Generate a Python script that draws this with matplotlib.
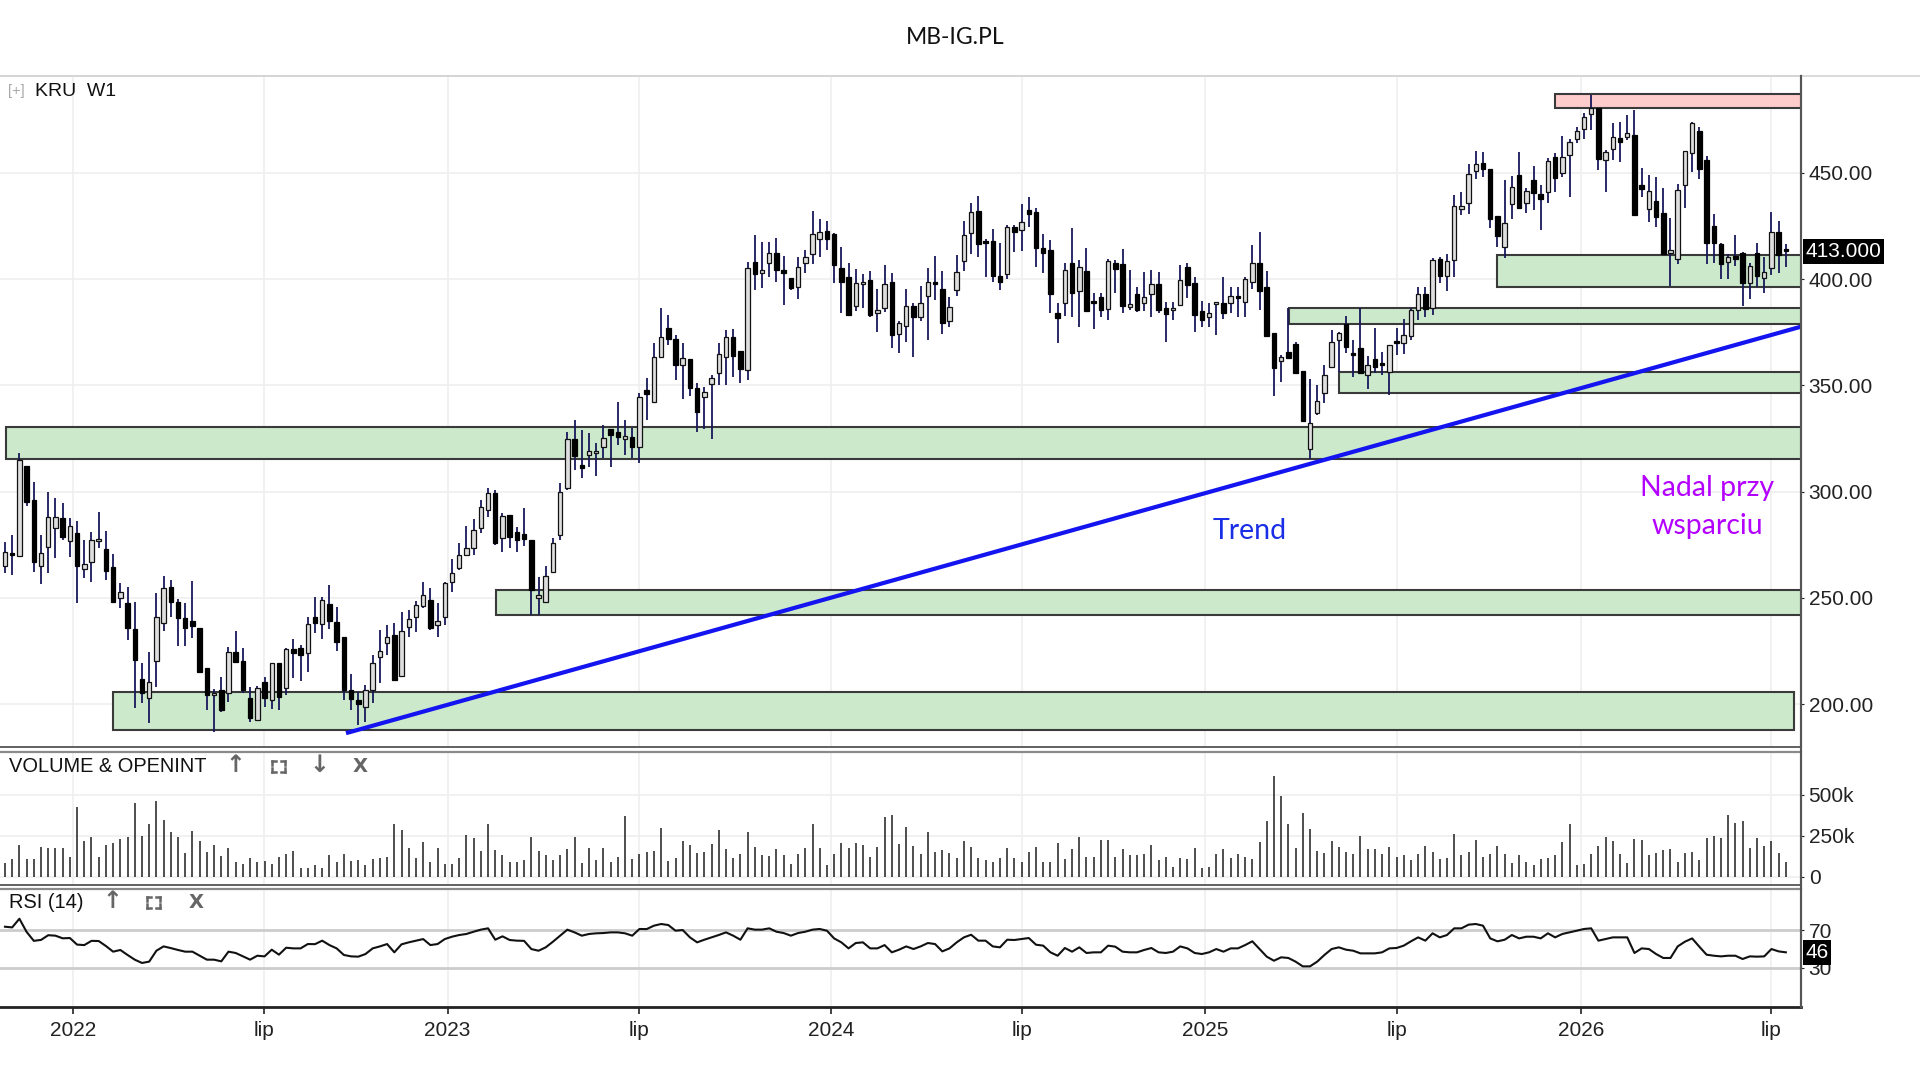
import matplotlib
matplotlib.use("Agg")
import matplotlib.pyplot as plt
import matplotlib.transforms as mtransforms
from matplotlib.patches import Rectangle
from matplotlib.lines import Line2D
import numpy as np

plt.rcParams['font.family'] = ['Liberation Sans', 'DejaVu Sans']

# ---------------- data (weekly candles, KRU W1) ----------------
open_ = [265.0, 271.0, 269.7, 312.2, 296.0, 265.0, 274.1, 282.7, 287.4, 277.0,
         280.7, 263.5, 267.0, 276.6, 272.9, 264.7, 249.8, 247.5, 235.2, 211.7,
         202.8, 220.3, 238.0, 255.0, 248.2, 240.4, 239.3, 235.7, 216.9, 204.5,
         206.7, 205.4, 224.4, 220.5, 202.8, 192.6, 210.6, 202.0, 219.2, 207.5,
         225.8, 226.3, 223.9, 241.2, 237.7, 247.1, 238.8, 231.8, 206.7, 202.0,
         198.9, 206.7, 222.4, 228.6, 232.6, 213.3, 236.2, 241.2, 246.2, 249.0,
         237.5, 241.2, 257.6, 263.9, 270.2, 273.3, 282.7, 291.3, 299.5, 278.0,
         289.0, 281.2, 280.0, 277.2, 250.0, 248.2, 262.4, 279.6, 301.5, 324.6,
         312.5, 317.2, 318.0, 321.2, 329.3, 328.2, 324.6, 325.8, 321.2, 348.0,
         342.3, 363.5, 376.8, 372.0, 359.6, 362.2, 348.6, 344.7, 350.4, 355.6,
         363.5, 372.6, 366.3, 357.2, 408.2, 403.0, 407.7, 412.4, 404.2, 400.3,
         396.1, 407.7, 412.0, 418.7, 422.7, 421.2, 405.0, 400.8, 387.3, 397.5,
         399.5, 384.2, 386.2, 398.7, 374.1, 377.9, 387.3, 382.3, 392.0, 398.5,
         395.2, 380.4, 394.8, 408.6, 421.8, 432.1, 417.5, 418.0, 401.4, 402.4,
         424.3, 423.1, 432.5, 431.7, 414.4, 413.6, 383.9, 388.9, 407.4, 394.5,
         403.9, 389.5, 391.4, 385.7, 407.4, 407.0, 386.7, 393.0, 388.9, 393.0,
         397.6, 386.2, 385.5, 387.8, 405.5, 398.3, 385.1, 382.3, 388.2, 388.9,
         388.9, 391.5, 389.3, 398.7, 407.7, 396.1, 374.4, 361.5, 365.8, 369.4,
         356.9, 319.9, 336.8, 346.5, 358.8, 371.3, 378.8, 365.4, 367.4, 354.8,
         362.2, 360.5, 356.4, 370.5, 370.1, 373.2, 385.4, 393.0, 386.5, 409.3,
         401.2, 408.8, 432.8, 435.9, 451.0, 454.4, 451.6, 429.6, 415.2, 435.3,
         448.9, 435.6, 446.6, 440.0, 441.1, 457.2, 450.0, 458.3, 465.7, 470.4,
         477.6, 480.3, 455.9, 461.0, 466.2, 467.0, 467.7, 444.2, 432.8, 436.8,
         431.2, 412.1, 409.2, 444.2, 459.4, 469.8, 456.0, 425.0, 416.5, 408.1,
         410.8, 412.4, 398.0, 412.4, 400.3, 405.0, 422.3, 414.2]
high = [276.5, 279.6, 318.0, 312.2, 304.7, 279.6, 300.0, 296.8, 294.5, 287.4,
        286.3, 277.2, 281.2, 290.6, 281.5, 270.7, 256.9, 255.3, 248.2, 219.2,
        224.7, 252.2, 260.3, 258.4, 249.3, 247.8, 258.0, 235.7, 216.9, 207.0,
        213.0, 227.1, 234.6, 226.3, 208.3, 208.6, 213.0, 219.5, 219.2, 226.3,
        230.5, 227.9, 241.2, 250.3, 250.6, 256.1, 245.9, 231.8, 214.2, 205.9,
        209.0, 223.2, 234.9, 237.3, 238.0, 243.5, 244.3, 248.7, 257.6, 254.5,
        247.5, 257.6, 268.2, 275.7, 283.8, 287.0, 296.0, 301.5, 300.8, 289.8,
        289.0, 283.5, 292.1, 277.2, 260.0, 265.0, 278.0, 303.9, 328.2, 333.7,
        329.0, 327.7, 323.0, 331.3, 329.3, 342.3, 333.7, 329.8, 346.5, 353.3,
        370.1, 386.2, 383.1, 373.7, 370.1, 362.2, 350.9, 349.4, 354.9, 370.1,
        376.0, 376.3, 366.3, 408.2, 420.7, 417.6, 417.6, 419.1, 410.8, 400.3,
        410.2, 413.6, 432.1, 428.1, 427.4, 421.8, 415.2, 407.4, 404.5, 402.4,
        403.9, 395.2, 406.6, 403.0, 380.4, 395.2, 388.6, 396.7, 405.0, 410.8,
        403.9, 391.7, 411.3, 427.4, 435.9, 439.1, 418.7, 423.4, 417.1, 425.4,
        425.4, 435.3, 438.7, 433.2, 421.2, 418.3, 388.9, 407.4, 423.8, 409.0,
        414.4, 393.3, 393.3, 409.3, 408.9, 414.0, 404.2, 396.4, 403.5, 404.2,
        403.5, 389.3, 389.3, 406.6, 407.4, 400.8, 389.8, 388.9, 389.3, 401.1,
        396.4, 396.1, 401.1, 416.0, 422.3, 403.9, 374.4, 364.5, 386.6, 370.5,
        356.9, 352.8, 350.2, 359.6, 376.0, 375.2, 382.6, 371.3, 386.2, 363.8,
        376.8, 365.8, 369.0, 376.8, 381.0, 386.2, 396.1, 396.4, 409.7, 410.5,
        412.0, 439.5, 441.1, 454.1, 460.4, 459.9, 451.6, 429.6, 446.6, 448.4,
        459.9, 442.6, 453.2, 444.2, 456.8, 459.4, 467.3, 465.7, 471.6, 477.9,
        486.5, 480.3, 460.7, 473.2, 474.0, 477.1, 479.5, 452.0, 448.9, 448.1,
        442.6, 428.5, 444.7, 460.4, 474.0, 471.3, 457.9, 430.6, 416.8, 411.8,
        420.7, 412.9, 407.7, 416.8, 410.5, 431.7, 427.4, 416.5]
low = [261.6, 261.0, 269.7, 293.2, 262.4, 256.4, 261.6, 268.6, 277.2, 269.4,
       247.5, 259.2, 257.6, 273.3, 258.4, 247.5, 245.1, 230.2, 198.1, 200.4,
       191.3, 208.3, 234.4, 241.2, 227.4, 227.4, 231.3, 214.5, 197.3, 187.1,
       196.5, 201.2, 219.2, 205.4, 191.8, 192.1, 198.5, 197.6, 197.3, 204.3,
       212.2, 211.1, 215.3, 233.3, 230.5, 235.2, 225.2, 202.0, 197.3, 190.2,
       191.8, 200.4, 209.8, 223.2, 211.4, 213.3, 231.5, 234.1, 245.1, 234.9,
       231.8, 237.3, 252.9, 263.1, 269.7, 270.2, 280.4, 287.9, 274.9, 271.8,
       273.3, 271.8, 274.4, 242.0, 242.0, 247.5, 261.9, 277.2, 300.8, 310.2,
       306.2, 311.7, 307.3, 315.6, 311.7, 321.9, 317.2, 315.6, 313.6, 333.7,
       341.8, 362.7, 369.0, 352.5, 343.4, 345.0, 328.2, 329.3, 325.0, 350.2,
       350.2, 354.1, 351.2, 352.5, 394.8, 395.6, 401.1, 398.7, 387.8, 394.8,
       390.4, 403.0, 407.0, 410.2, 413.6, 398.3, 384.2, 383.1, 385.1, 386.2,
       382.3, 375.2, 384.7, 367.4, 365.0, 370.5, 363.2, 380.4, 371.3, 390.1,
       374.1, 377.6, 392.0, 403.9, 411.8, 410.2, 400.8, 398.7, 394.8, 399.8,
       412.9, 413.3, 424.6, 405.8, 403.0, 384.2, 370.1, 382.6, 382.0, 377.6,
       385.1, 376.3, 382.0, 380.7, 393.3, 384.2, 385.4, 384.7, 385.1, 382.0,
       384.2, 370.5, 380.7, 387.3, 390.9, 375.2, 377.6, 377.3, 373.7, 381.0,
       383.9, 382.0, 382.3, 395.2, 385.4, 373.2, 345.0, 351.7, 362.2, 355.6,
       333.4, 315.2, 336.0, 341.8, 358.0, 356.4, 365.4, 353.7, 355.6, 348.1,
       355.6, 354.8, 345.4, 364.2, 364.7, 371.3, 380.7, 382.0, 383.1, 398.3,
       394.3, 401.1, 430.1, 430.6, 446.9, 447.8, 423.8, 414.9, 409.7, 428.1,
       433.2, 431.2, 432.5, 423.1, 435.6, 441.1, 447.8, 438.7, 464.1, 465.7,
       470.1, 451.3, 441.1, 456.0, 455.2, 465.4, 430.1, 438.7, 427.0, 424.3,
       411.3, 396.7, 407.1, 433.2, 450.5, 446.9, 407.1, 407.4, 399.8, 399.8,
       406.1, 387.3, 390.4, 396.4, 393.3, 401.9, 403.0, 405.5]
close = [271.8, 270.0, 314.9, 295.3, 266.7, 271.3, 287.9, 287.9, 278.5, 283.8,
         265.2, 266.0, 277.2, 277.6, 262.8, 248.2, 252.6, 235.7, 220.8, 205.4,
         210.6, 241.2, 254.5, 248.2, 240.4, 235.7, 236.8, 215.3, 204.3, 205.5,
         197.3, 224.7, 220.0, 206.7, 193.4, 207.5, 202.8, 219.2, 203.6, 225.8,
         224.2, 223.2, 237.7, 238.4, 249.0, 239.3, 229.4, 206.7, 202.3, 200.0,
         206.7, 219.2, 225.2, 231.8, 211.4, 234.6, 239.9, 246.9, 251.4, 235.7,
         239.3, 256.9, 261.6, 270.2, 273.3, 282.0, 292.9, 299.2, 275.7, 288.5,
         278.8, 277.2, 277.5, 253.7, 251.5, 260.3, 275.7, 300.0, 324.6, 316.7,
         311.0, 319.2, 318.8, 325.1, 326.6, 325.5, 326.2, 320.8, 344.7, 345.9,
         363.5, 372.9, 371.6, 359.6, 362.7, 348.6, 337.6, 347.0, 353.3, 364.7,
         372.6, 363.8, 357.5, 405.0, 402.4, 404.2, 412.4, 404.2, 402.7, 395.6,
         405.8, 410.5, 421.2, 422.3, 418.7, 406.6, 398.7, 383.1, 398.3, 398.3,
         383.1, 385.4, 397.6, 373.7, 379.5, 387.3, 382.3, 388.9, 398.7, 397.5,
         379.2, 387.0, 403.5, 420.7, 431.7, 416.5, 416.8, 401.4, 398.7, 424.3,
         422.3, 427.0, 430.6, 414.4, 412.1, 393.0, 381.5, 404.2, 393.3, 405.8,
         385.1, 388.9, 385.4, 408.6, 404.6, 387.3, 388.3, 385.4, 391.4, 397.6,
         385.4, 383.5, 386.2, 399.5, 397.2, 383.1, 380.7, 383.9, 389.3, 384.2,
         392.0, 390.9, 399.8, 407.7, 394.5, 373.2, 358.0, 363.5, 362.7, 356.0,
         333.4, 332.5, 342.8, 354.8, 370.5, 374.8, 368.2, 364.2, 355.6, 359.6,
         358.8, 359.6, 369.0, 369.8, 373.7, 385.4, 392.9, 386.0, 409.0, 401.2,
         408.4, 434.2, 434.3, 449.4, 454.1, 451.6, 428.1, 420.2, 426.5, 443.1,
         433.2, 441.5, 440.6, 437.5, 455.7, 447.4, 457.5, 464.6, 469.8, 476.4,
         480.3, 456.3, 459.9, 466.6, 464.6, 468.5, 430.1, 442.2, 441.4, 429.3,
         411.8, 413.6, 441.9, 460.2, 473.5, 451.6, 416.8, 416.8, 407.1, 410.2,
         409.2, 398.0, 406.1, 401.4, 403.5, 422.3, 411.3, 413.0]
volume_k = [86, 106, 196, 106, 106, 180, 172, 172, 172, 120,
            422, 216, 242, 122, 196, 206, 232, 242, 450, 250,
            322, 460, 346, 272, 242, 142, 280, 220, 152, 196,
            126, 172, 92, 76, 112, 92, 96, 76, 120, 136,
            156, 50, 56, 72, 52, 130, 92, 136, 96, 100,
            70, 106, 112, 120, 322, 286, 172, 112, 212, 92,
            172, 76, 80, 112, 256, 236, 156, 322, 160, 130,
            92, 92, 100, 242, 156, 132, 100, 132, 166, 242,
            82, 172, 100, 172, 92, 122, 370, 106, 140, 150,
            156, 296, 96, 116, 220, 192, 146, 152, 200, 286,
            166, 112, 140, 272, 182, 132, 126, 166, 132, 76,
            140, 172, 322, 176, 72, 140, 206, 176, 206, 192,
            122, 182, 362, 376, 200, 302, 190, 136, 272, 152,
            160, 142, 112, 220, 180, 112, 100, 90, 112, 172,
            112, 92, 152, 182, 92, 92, 206, 106, 166, 242,
            122, 122, 226, 226, 122, 166, 130, 130, 136, 196,
            100, 120, 60, 112, 106, 172, 52, 60, 136, 166,
            112, 136, 122, 106, 212, 340, 616, 490, 322, 172,
            390, 292, 156, 142, 220, 182, 152, 136, 250, 166,
            166, 136, 182, 122, 130, 100, 136, 190, 152, 106,
            112, 262, 130, 152, 226, 122, 136, 190, 136, 82,
            130, 90, 70, 106, 112, 130, 212, 322, 70, 76,
            136, 190, 242, 220, 136, 82, 232, 226, 130, 142,
            162, 166, 92, 142, 152, 100, 236, 250, 236, 376,
            330, 340, 172, 236, 190, 220, 142, 92]
rsi14 = [73.5, 72.8, 82.0, 68.0, 58.5, 59.5, 64.5, 64.0, 61.2, 61.5,
         54.5, 54.0, 58.5, 58.3, 53.0, 47.0, 48.8, 43.5, 38.5, 35.0,
         36.4, 48.0, 52.6, 50.8, 48.8, 47.0, 47.0, 42.7, 38.5, 38.5,
         36.7, 47.0, 45.6, 42.0, 38.5, 42.7, 42.0, 49.1, 43.8, 51.2,
         50.5, 50.5, 55.1, 55.0, 58.7, 54.0, 50.5, 43.5, 42.0, 41.7,
         44.5, 50.5, 52.6, 55.1, 46.3, 54.8, 56.9, 58.7, 60.4, 54.0,
         55.1, 60.4, 62.9, 64.7, 65.8, 68.2, 70.4, 71.8, 59.7, 63.3,
         59.4, 58.7, 58.5, 49.8, 48.0, 51.6, 57.6, 64.0, 70.4, 67.5,
         64.0, 65.8, 66.5, 66.8, 67.5, 67.5, 66.5, 64.0, 71.1, 71.0,
         74.6, 76.4, 75.3, 69.3, 70.0, 62.2, 56.9, 59.7, 62.2, 64.7,
         67.5, 64.0, 59.7, 71.8, 70.4, 70.4, 71.8, 68.2, 66.8, 64.0,
         66.8, 68.2, 70.4, 71.1, 69.3, 61.1, 56.9, 50.5, 56.2, 56.9,
         50.5, 50.5, 54.0, 46.3, 49.1, 52.6, 49.8, 52.6, 56.2, 55.1,
         47.3, 50.5, 56.9, 62.2, 65.0, 58.7, 58.7, 52.6, 51.6, 59.7,
         59.4, 60.4, 61.5, 54.4, 53.4, 46.3, 42.7, 50.9, 47.0, 51.6,
         45.6, 46.3, 46.3, 53.4, 52.3, 47.0, 46.3, 46.3, 48.8, 50.9,
         46.3, 45.6, 47.0, 52.6, 50.5, 45.6, 44.5, 46.3, 49.8, 47.0,
         50.5, 50.5, 54.0, 58.0, 49.8, 41.7, 37.4, 41.0, 40.3, 36.4,
         31.4, 31.4, 36.4, 43.5, 49.8, 51.6, 49.1, 48.0, 45.2, 45.2,
         45.2, 46.3, 50.5, 50.9, 53.4, 58.0, 62.2, 58.7, 66.5, 62.2,
         64.7, 71.8, 71.8, 75.7, 76.4, 74.6, 61.1, 58.0, 59.7, 64.7,
         61.1, 62.9, 62.9, 61.1, 66.5, 62.2, 65.8, 67.5, 69.3, 71.1,
         71.8, 58.7, 60.4, 62.2, 62.2, 62.2, 45.6, 50.5, 49.8, 44.5,
         40.3, 40.3, 52.6, 57.6, 61.1, 52.3, 43.8, 42.7, 42.0, 42.7,
         42.7, 39.2, 42.0, 41.7, 42.0, 49.8, 47.3, 46.3]

x_tick_pos = [9.5, 35.9, 61.4, 87.9, 114.6, 141.1, 166.4, 193.1, 218.6, 244.9]
x_tick_labels = ["2022", "lip", "2023", "lip", "2024", "lip", "2025", "lip", "2026", "lip"]
price_ticks = [200, 250, 300, 350, 400, 450]
vol_ticks = [0, 250, 500]
vol_tick_labels = ["0", "250k", "500k"]
rsi_ticks = [30, 70]

# support / resistance zones (price range and first bar)
zone_low = [315.2, 187.9, 241.9, 378.7, 346.2, 396.1, 480.3]
zone_high = [330.4, 205.6, 253.7, 386.3, 356.1, 411.1, 486.9]
zone_start = [0.1, 15.0, 68.1, 178.1, 185.0, 207.0, 215.0]
zone_end = [249.5, 248.1, 249.5, 249.5, 249.5, 249.5, 249.5]
zone_kind = ["support"] * 6 + ["resistance"]

trend_x = [47.3, 249.1]
trend_y = [186.4, 377.6]

# ---------------- layout helpers ----------------
W, H = 1920, 1080
def fx(px):
    return px / W
def fy(py):
    return 1 - py / H

fig = plt.figure(figsize=(W / 100, H / 100), dpi=100)
fig.patch.set_facecolor("white")

AX_R = 1801
ax = fig.add_axes([0, fy(747), fx(AX_R), (747 - 76) / H])
axv = fig.add_axes([0, fy(885), fx(AX_R), (885 - 752) / H])
axr = fig.add_axes([0, fy(1007), fx(AX_R), (1007 - 889) / H])

n = len(close)
xs = np.arange(n)
o = np.array(open_); c = np.array(close); hi = np.array(high); lo = np.array(low)
XL = (-0.69, 249.1)

TICK_FS = 15
GRID = "#efefef"
for a in (ax, axv, axr):
    a.set_xlim(*XL)
    a.set_xticks(x_tick_pos)
    a.grid(True, axis="x", color=GRID, lw=1.2, zorder=0)
    a.set_axisbelow(True)
    a.yaxis.tick_right()
    a.spines["left"].set_visible(False)
    a.spines["right"].set_color("#555555")
    a.spines["right"].set_linewidth(1.5)
    a.tick_params(axis="y", which="both", labelsize=TICK_FS, length=2.5, pad=3,
                  colors="#222222", direction="out")
for a in (ax, axv):
    a.tick_params(axis="x", length=0, labelbottom=False)

# ---------------- main price panel ----------------
ax.set_ylim(179.9, 495.5)
ax.set_yticks(price_ticks)
ax.set_yticklabels([f"{v:.2f}" for v in price_ticks])
ax.grid(True, axis="y", color=GRID, lw=1.2, zorder=0)
ax.spines["top"].set_color("#d4d4d4")
ax.spines["top"].set_linewidth(1.2)
ax.spines["bottom"].set_color("#555555")
ax.spines["bottom"].set_linewidth(1.3)

for lo_, hi_, s_, e_, k_ in zip(zone_low, zone_high, zone_start, zone_end, zone_kind):
    fc = "#cce9cc" if k_ == "support" else "#ffcccc"
    ax.add_patch(Rectangle((s_, lo_), e_ - s_, hi_ - lo_, facecolor=fc,
                           edgecolor="#3a3a3a", lw=1.5, zorder=1))

ax.vlines(xs, lo, hi, color="#18185a", lw=1.3, zorder=2)
up = c >= o
body_bot = np.minimum(o, c)
body_h = np.maximum(np.abs(c - o), 0.9)
ax.bar(xs[up], body_h[up], bottom=body_bot[up], width=0.62, color="#dedede",
       edgecolor="#111111", linewidth=0.9, zorder=3)
ax.bar(xs[~up], body_h[~up], bottom=body_bot[~up], width=0.62, color="#000000",
       edgecolor="#000000", linewidth=0.9, zorder=3)

ax.plot(trend_x, trend_y, color="#1414f0", lw=3.0, zorder=4, solid_capstyle="butt")

ax.text(172.7, 281.7, "Trend", color="#1a2ee8", fontsize=20.5, family="Lato",
        ha="center", va="center", zorder=5)
ax.text(236.1, 292.8, "Nadal przy\nwsparciu", color="#b300ff", fontsize=20.5,
        family="Lato", ha="center", va="center", linespacing=1.55, zorder=5)

tr_main = mtransforms.blended_transform_factory(ax.transAxes, ax.transData)
ax.text(1.0 + 4.5 / AX_R, c[-1], f"{c[-1]:.3f}", transform=tr_main, color="white",
        fontsize=TICK_FS, ha="left", va="center", clip_on=False, zorder=10,
        bbox=dict(boxstyle="square,pad=0.13", fc="black", ec="none"))

# ---------------- volume panel ----------------
axv.set_ylim(-50.6, 760)
axv.set_yticks(vol_ticks)
axv.set_yticklabels(vol_tick_labels)
axv.grid(True, axis="y", color=GRID, lw=1.2, zorder=0)
axv.vlines(xs, 0, volume_k, color="#1e1e1e", lw=1.1, zorder=2)
axv.spines["top"].set_color("#8a8a8a")
axv.spines["top"].set_linewidth(1.6)
axv.spines["bottom"].set_color("#555555")
axv.spines["bottom"].set_linewidth(1.3)

# ---------------- RSI panel ----------------
axr.set_ylim(-11.8, 113.6)
axr.set_yticks(rsi_ticks)
axr.grid(True, axis="y", color="#cccccc", lw=2.0, zorder=0)
axr.plot(xs, rsi14, color="#111111", lw=1.5, zorder=3)
axr.spines["top"].set_color("#8a8a8a")
axr.spines["top"].set_linewidth(1.6)
axr.spines["bottom"].set_color("#222222")
axr.spines["bottom"].set_linewidth(2.0)
axr.set_xticklabels(x_tick_labels)
axr.tick_params(axis="x", labelsize=TICK_FS, length=5, width=1.2, pad=5,
                colors="#222222", direction="out")
tr_rsi = mtransforms.blended_transform_factory(axr.transAxes, axr.transData)
axr.text(1.0 + 4.5 / AX_R, rsi14[-1], f"{rsi14[-1]:.0f}", transform=tr_rsi,
         color="white", fontsize=TICK_FS, ha="left", va="center", clip_on=False,
         zorder=10, bbox=dict(boxstyle="square,pad=0.13", fc="black", ec="none"))

# ---------------- figure decorations ----------------
fig.add_artist(Line2D([0, 1], [fy(76), fy(76)], color="#d4d4d4", lw=1.2))
fig.add_artist(Line2D([fx(AX_R), fx(AX_R)], [fy(76), fy(1007)], color="#555555", lw=1.5))

fig.text(fx(955), fy(37), "MB-IG.PL", family="Lato", fontsize=16.5,
         ha="center", va="center", color="#111111")
fig.text(fx(8), fy(91), "[+]", fontsize=10.5, color="#a8a8a8", ha="left", va="center")
fig.text(fx(35), fy(91), "KRU  W1", fontsize=14, color="#111111", ha="left", va="center")

fig.text(fx(9), fy(766), "VOLUME & OPENINT", fontsize=14.4, color="#111111",
         ha="left", va="center")
fig.text(fx(9), fy(902), "RSI (14)", fontsize=14.4, color="#111111",
         ha="left", va="center")

ICON = "#666666"
def icon(px, py, ch, fs=15):
    fig.text(fx(px), fy(py), ch, fontsize=fs, color=ICON, family="DejaVu Sans",
             ha="center", va="center", fontweight="bold")

def corners(cx, cy, w=13, h=11, L=4):
    x0, x1 = cx - w / 2, cx + w / 2
    y0, y1 = cy - h / 2, cy + h / 2
    for (xa, ya, dx, dy) in [(x0, y0, 1, 1), (x1, y0, -1, 1), (x0, y1, 1, -1), (x1, y1, -1, -1)]:
        fig.add_artist(Line2D([fx(xa), fx(xa + dx * L)], [fy(ya), fy(ya)], color=ICON, lw=1.8))
        fig.add_artist(Line2D([fx(xa), fx(xa)], [fy(ya), fy(ya + dy * L)], color=ICON, lw=1.8))

icon(235, 765, "↑", 17); corners(278, 766); icon(319, 765, "↓", 17); icon(360, 766, "X", 14)
icon(112, 901, "↑", 17); corners(153, 902); icon(196, 902, "X", 14)

fig.savefig("out.png", dpi=100, facecolor="white")
